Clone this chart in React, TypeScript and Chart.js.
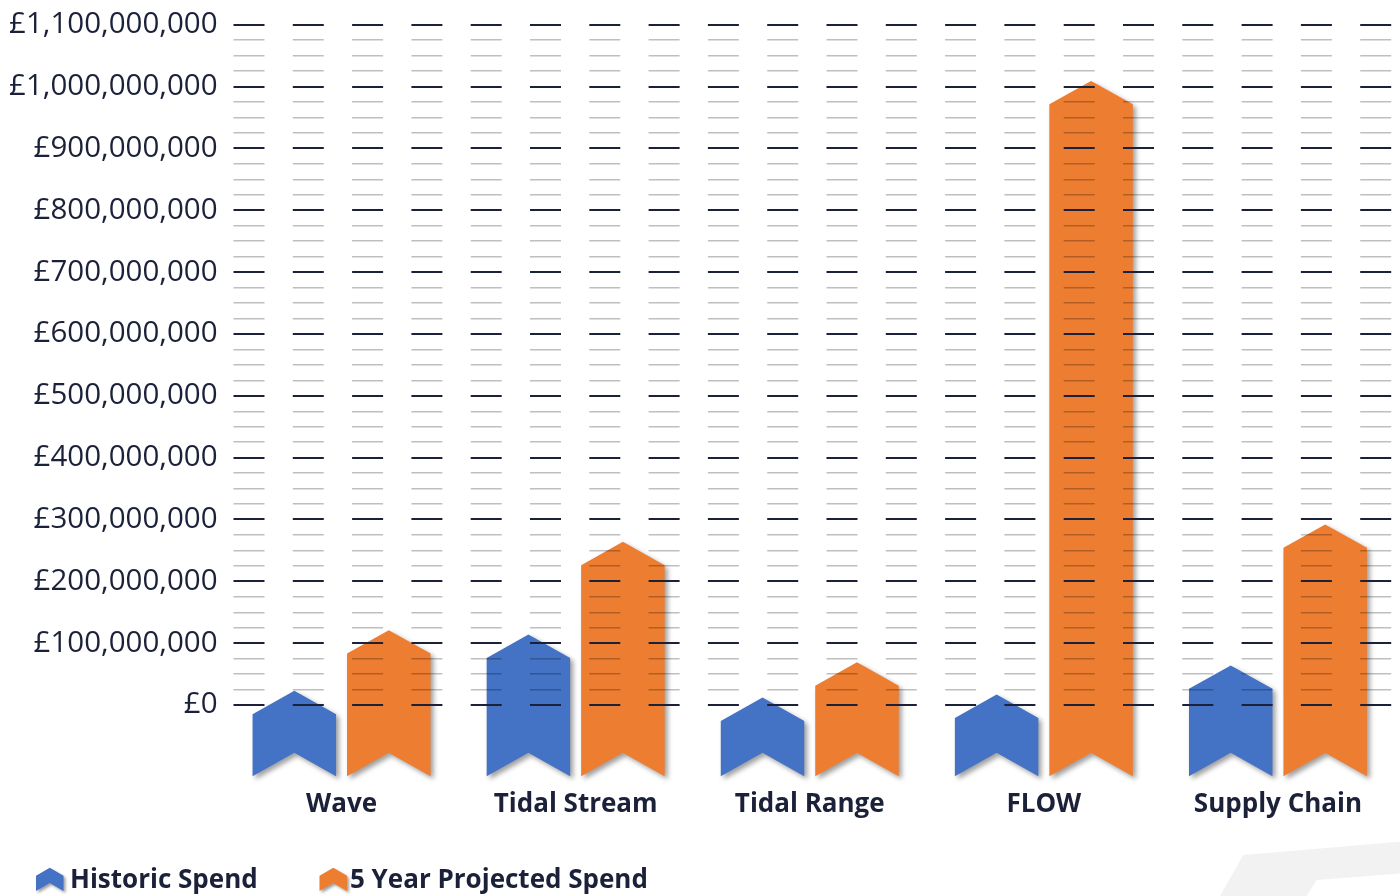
import { useEffect, useRef } from 'react';
import { Chart, registerables } from 'chart.js';
import type { ChartConfiguration, Plugin } from 'chart.js';

Chart.register(...registerables);

// Spend per technology area (GBP)
const CATEGORIES = ['Wave', 'Tidal Stream', 'Tidal Range', 'FLOW', 'Supply Chain'];
const HISTORIC_SPEND = [23_000_000, 114_000_000, 12_000_000, 17_000_000, 64_000_000];
const PROJECTED_SPEND = [121_000_000, 264_000_000, 69_000_000, 1_009_000_000, 292_000_000];
const SERIES_NAMES = ['Historic Spend', '5 Year Projected Spend'];
const SERIES_COLORS = ['#4472C4', '#ED7D31'];

// Value axis
const AXIS_MAX = 1_100_000_000;
const AXIS_FOOT = -115_000_000; // the arrow feet hang below the zero line down to here
const MINOR_STEP = 25_000_000;
const MAJOR_STEP = 100_000_000;

const INK = '#1b2139';
const FONT = '"Open Sans", "Noto Sans", sans-serif';

// Legend placement
const LEGEND_KEY_X = [36, 319.5];
const LEGEND_TEXT_X = [70, 350];

const isMajor = (v: number) => Math.abs(v / MAJOR_STEP - Math.round(v / MAJOR_STEP)) < 1e-6;

// Up-pointing chevron: peak on top, notch cut into the foot
function chevronPath(
  ctx: CanvasRenderingContext2D,
  left: number,
  right: number,
  top: number,
  bottom: number,
  depth: number
) {
  const mid = (left + right) / 2;
  ctx.beginPath();
  ctx.moveTo(mid, top);
  ctx.lineTo(right, top + depth);
  ctx.lineTo(right, bottom);
  ctx.lineTo(mid, bottom - depth);
  ctx.lineTo(left, bottom);
  ctx.lineTo(left, top + depth);
  ctx.closePath();
}

function withShadow(ctx: CanvasRenderingContext2D) {
  ctx.shadowColor = 'rgba(0,0,0,0.38)';
  ctx.shadowBlur = 5;
  ctx.shadowOffsetX = 3;
  ctx.shadowOffsetY = 3;
}

// Replaces the plain rectangles with chevron arrows built from each bar's geometry
const chevronBars: Plugin<'bar'> = {
  id: 'chevronBars',
  beforeDatasetDraw(chart, args) {
    const { ctx } = chart;
    const ds = chart.data.datasets[args.index];
    ctx.save();
    withShadow(ctx);
    ctx.fillStyle = ds.backgroundColor as string;
    for (const el of args.meta.data) {
      const { x, y, base, width } = (el as any).getProps(['x', 'y', 'base', 'width'], true);
      const depth = width * 0.28;
      chevronPath(ctx, x - width / 2, x + width / 2, y, base, depth);
      ctx.fill();
    }
    ctx.restore();
    return false;
  },
};

// Faint corner mark in the lower right
const cornerMark: Plugin<'bar'> = {
  id: 'cornerMark',
  beforeDraw(chart) {
    const { ctx } = chart;
    ctx.save();
    ctx.fillStyle = '#f2f2f2';
    ctx.beginPath();
    ctx.moveTo(1400, 841.7);
    ctx.lineTo(1243.3, 855);
    ctx.lineTo(1220, 896);
    ctx.lineTo(1306.7, 896);
    ctx.lineTo(1316.7, 880);
    ctx.lineTo(1400, 873.5);
    ctx.closePath();
    ctx.fill();
    ctx.restore();
  },
};

// Legend row with chevron keys
const chevronLegend: Plugin<'bar'> = {
  id: 'chevronLegend',
  afterDraw(chart) {
    const { ctx } = chart;
    ctx.save();
    ctx.font = `bold 26px ${FONT}`;
    ctx.textBaseline = 'alphabetic';
    ctx.textAlign = 'left';
    chart.data.datasets.forEach((ds, i) => {
      const x = LEGEND_KEY_X[i];
      ctx.save();
      withShadow(ctx);
      ctx.shadowBlur = 3;
      ctx.shadowOffsetX = 2;
      ctx.shadowOffsetY = 2;
      ctx.fillStyle = ds.backgroundColor as string;
      chevronPath(ctx, x, x + 27.5, 867.7, 891, 8);
      ctx.fill();
      ctx.restore();
      ctx.fillStyle = INK;
      ctx.fillText(String(ds.label), LEGEND_TEXT_X[i], 887.5);
    });
    ctx.restore();
  },
};

const config: ChartConfiguration<'bar'> = {
  type: 'bar',
  data: {
    labels: CATEGORIES,
    datasets: [
      {
        label: SERIES_NAMES[0],
        data: HISTORIC_SPEND,
        backgroundColor: SERIES_COLORS[0],
        base: AXIS_FOOT,
        categoryPercentage: 0.807,
        barPercentage: 0.884,
      },
      {
        label: SERIES_NAMES[1],
        data: PROJECTED_SPEND,
        backgroundColor: SERIES_COLORS[1],
        base: AXIS_FOOT,
        categoryPercentage: 0.807,
        barPercentage: 0.884,
      },
    ],
  },
  options: {
    responsive: false,
    animation: false,
    devicePixelRatio: 1,
    layout: { padding: { top: 24.3, right: 5, bottom: 0, left: 0 } },
    plugins: {
      legend: { display: false },
      tooltip: { enabled: false },
    },
    scales: {
      x: {
        grid: { display: false, drawTicks: false },
        border: { display: false },
        ticks: {
          color: INK,
          padding: 13,
          maxRotation: 0,
          font: { family: FONT, size: 26, weight: 'bold' },
        },
        afterFit: (axis) => {
          axis.height = 119.84;
        },
      },
      y: {
        min: AXIS_FOOT,
        max: AXIS_MAX,
        // gridlines every 25M from zero upward; only the 100M lines carry a label
        afterBuildTicks: (axis) => {
          const ticks: { value: number }[] = [];
          for (let v = 0; v <= AXIS_MAX + 1; v += MINOR_STEP) ticks.push({ value: v });
          axis.ticks = ticks as any;
        },
        ticks: {
          autoSkip: false,
          padding: 7,
          color: INK,
          font: { family: FONT, size: 29.5 },
          callback: (v) => (isMajor(Number(v)) ? '£' + Number(v).toLocaleString('en-GB') : ''),
        },
        grid: {
          z: 1,
          drawTicks: false,
          color: (c) => (c.tick && isMajor(c.tick.value) ? INK : 'rgba(0,0,0,0.25)'),
          lineWidth: (c) => (c.tick && isMajor(c.tick.value) ? 2 : 1.5),
        },
        border: { display: false, dash: [31, 28.3], dashOffset: 50.8 },
        afterFit: (axis) => {
          axis.width = 224.5;
        },
      },
    },
  },
  plugins: [cornerMark, chevronBars, chevronLegend],
};

export default function App() {
  const canvasRef = useRef<HTMLCanvasElement | null>(null);

  useEffect(() => {
    let chart: Chart<'bar'> | null = null;
    let cancelled = false;
    Promise.all([
      document.fonts.load(`29px "Open Sans"`),
      document.fonts.load(`bold 26px "Open Sans"`),
    ])
      .catch(() => undefined)
      .then(() => {
        if (cancelled || !canvasRef.current) return;
        chart = new Chart(canvasRef.current, config);
      });
    return () => {
      cancelled = true;
      chart?.destroy();
    };
  }, []);

  return (
    <div style={{ position: 'absolute', left: 0, top: 0, width: 1400, height: 896, background: '#fff' }}>
      <canvas ref={canvasRef} width={1400} height={896} style={{ display: 'block' }} />
    </div>
  );
}
